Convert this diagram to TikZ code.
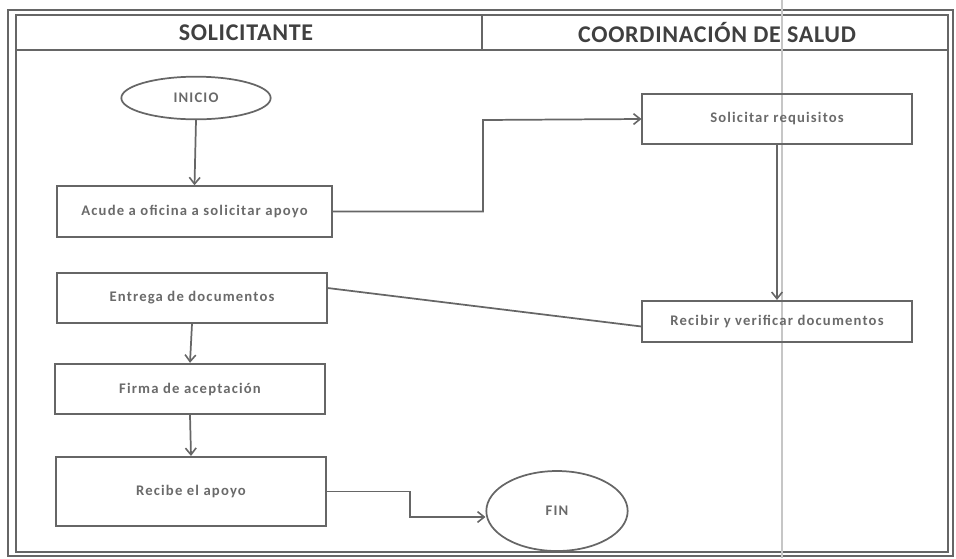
\documentclass[tikz,border=0pt]{standalone}
\usepackage{fontspec}
\setmainfont{Carlito}
\newfontfamily\boxfont[LetterSpace=8]{Carlito}
\newfontfamily\headfont[LetterSpace=3]{Carlito}
\usetikzlibrary{arrows.meta,shapes.geometric,calc}
\definecolor{ln}{HTML}{666666}
\definecolor{tx}{HTML}{6A6A6A}
\begin{document}
\begin{tikzpicture}[x=0.75pt,y=-0.75pt,
  box/.style={draw=ln,line width=1.3pt,minimum width=202pt,minimum height=38pt,inner sep=0pt,font=\boxfont\fontsize{11}{13}\selectfont\bfseries,text=tx},
  oval/.style={draw=ln,line width=1.3pt,ellipse,inner sep=0pt,font=\boxfont\fontsize{11}{13}\selectfont\bfseries,text=tx},
  conn/.style={draw=ln,line width=1.3pt},
  arr/.style={conn,-{Straight Barb[length=5pt,width=8pt,line width=1.2pt]}},
  head/.style={font=\headfont\fontsize{18}{20}\selectfont\bfseries,text=black!75}]
\useasboundingbox (0,0) rectangle (956,558);
% frame
\draw[ln,line width=0.8pt] (8,10) rectangle (953,556);
\draw[ln,line width=1.3pt] (16,15) rectangle (948,552);
\draw[ln,line width=1.3pt] (16,50) -- (948,50);
\draw[ln,line width=1.3pt] (482,15) -- (482,50);
\draw[ln,line width=1pt] (479,15) -- (485,15);
% scan fold line
\draw[gray!45,line width=1pt] (782,0) -- (782,558);
% headers
\node[head] (h1) at (246,33) {SOLICITANTE};
\node[head] (h2) at (717,33) {COORDINACIÓN DE SALUD};
% nodes
\node[oval,minimum width=112pt,minimum height=32pt] (inicio) at (196,98) {INICIO};
\node[box,minimum width=206pt] (acude) at (194.5,211.5) {Acude a oficina a solicitar apoyo};
\node[box] (sol) at (777,119) {Solicitar requisitos};
\node[box,minimum height=37.5pt] (entrega) at (192,298) {Entrega de documentos};
\node[box,minimum height=31pt] (recibir) at (777,321.5) {Recibir y verificar documentos};
\node[box] (firma) at (190,389) {Firma de aceptación};
\node[box,minimum height=52pt] (recibe) at (191,491.5) {Recibe el apoyo};
\node[oval,minimum width=106pt,minimum height=60pt] (fin) at (557,511) {FIN};
% connectors
\draw[arr] (inicio.south) -- (acude.north);
\draw[arr] (acude.east) -- (483,211.5) -- (483,120) -- (sol.west);
\draw[arr] (sol.south) -- (recibir.north);
\draw[conn] ($(entrega.east)+(0,-10)$) -- ($(recibir.west)+(0,5)$);
\draw[arr] (entrega.south) -- (firma.north);
\draw[arr] (firma.south) -- (recibe.north);
\draw[arr] (recibe.east) -- (410,491.5) -- (410,517) -- (fin.west |- 0,517);
\end{tikzpicture}
\end{document}
